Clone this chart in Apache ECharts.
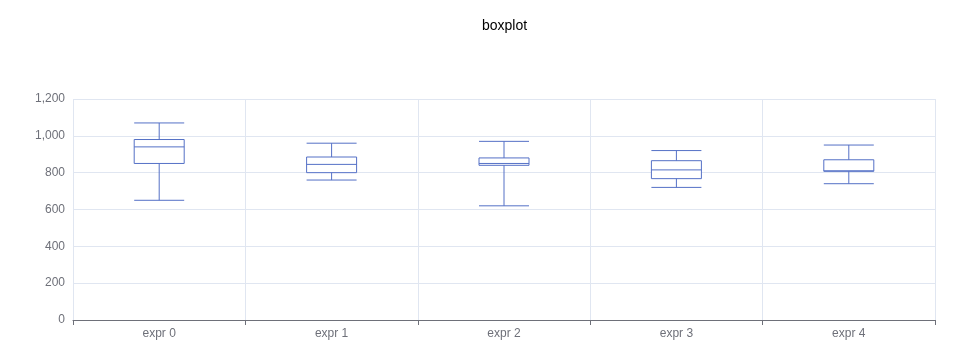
<!DOCTYPE html>
<html>
<head>
<meta charset="utf-8">
<script src="https://cdn.jsdelivr.net/npm/echarts@6/dist/echarts.min.js"></script>
<style>html,body{margin:0;padding:0;background:#fff}#c{width:965px;height:357px}</style>
</head>
<body>
<div id="c"></div>
<script>
const categories = ['expr 0', 'expr 1', 'expr 2', 'expr 3', 'expr 4'];
// [min, Q1, median, Q3, max]
const boxValues = [
  [650, 850, 940, 980, 1070],
  [760, 800, 845, 885, 960],
  [620, 840, 850, 880, 970],
  [720, 767.5, 815, 865, 920],
  [740, 807.5, 810, 870, 950]
];
const yMin = 0, yMax = 1200, yInterval = 200;

const chart = echarts.init(document.getElementById('c'));
chart.setOption({
  animation: false,
  title: {
    text: 'boxplot', left: 477, top: 14,
    textStyle: { fontSize: 14, fontWeight: 'normal', color: '#000' }
  },
  grid: { left: 73, right: 30, top: 99, bottom: 37 },
  xAxis: {
    type: 'category', data: categories, boundaryGap: true,
    axisLine: { lineStyle: { color: '#6E7079' } },
    axisTick: { show: true, length: 5, lineStyle: { color: '#6E7079' } },
    axisLabel: { color: '#6E7079', fontSize: 12 },
    splitLine: { show: true, lineStyle: { color: '#E0E6F1' } }
  },
  yAxis: {
    type: 'value', min: yMin, max: yMax, interval: yInterval,
    axisLabel: { color: '#6E7079', fontSize: 12 },
    splitLine: { show: true, lineStyle: { color: '#E0E6F1' } }
  },
  series: [{
    type: 'boxplot',
    data: boxValues,
    boxWidth: [7, 50],
    itemStyle: { color: '#fff', borderColor: '#5470c6', borderWidth: 1 }
  }]
});
</script>
</body>
</html>
